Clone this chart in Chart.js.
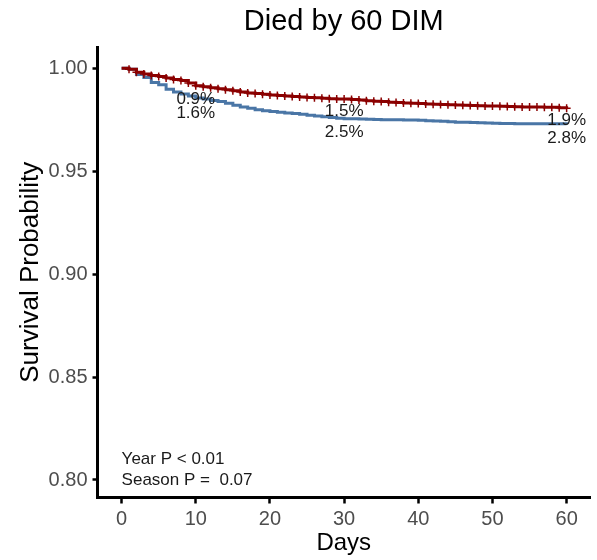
<!DOCTYPE html>
<html>
<head>
<meta charset="utf-8">
<script src="https://cdn.jsdelivr.net/npm/chart.js@4/dist/chart.umd.min.js"></script>
<style>
  html, body { margin: 0; padding: 0; background: #fff; }
  #wrap { width: 597px; height: 560px; }
</style>
</head>
<body>
<div id="wrap"><canvas id="kmChart" width="597" height="560"></canvas></div>
<script>
// follow-up day
const days = [0,1,2,3,4,5,6,7,8,9,10,11,12,13,14,15,16,17,18,19,20,
  21,22,23,24,25,26,27,28,29,30,31,32,33,34,35,36,37,38,39,40,
  41,42,43,44,45,46,47,48,49,50,51,52,53,54,55,56,57,58,59,60];

// survival, red group
const survRed = [1.000,0.9995,0.998,0.9972,0.9965,0.996,0.9953,0.9945,0.994,0.9928,0.9915,
  0.991,0.9905,0.990,0.9895,0.989,0.9885,0.988,0.9877,0.9873,0.987,
  0.9868,0.9865,0.9862,0.986,0.9858,0.9856,0.9854,0.9852,0.9851,0.985,
  0.9848,0.9845,0.9842,0.984,0.9838,0.9835,0.9833,0.9831,0.983,0.9828,
  0.9826,0.9825,0.9824,0.9822,0.9821,0.982,0.9819,0.9818,0.9817,0.9816,
  0.9815,0.9814,0.9813,0.9812,0.9811,0.9811,0.981,0.981,0.9808,0.9805];

// survival, blue group
const survBlue = [1.000,0.9995,0.997,0.9955,0.993,0.992,0.9898,0.9885,0.9875,0.9865,0.9855,
  0.985,0.9843,0.9838,0.983,0.982,0.9812,0.9805,0.9798,0.9793,0.979,
  0.9786,0.9782,0.978,0.9776,0.9772,0.9768,0.9764,0.976,0.9757,0.9755,
  0.9754,0.9753,0.9752,0.9751,0.975,0.975,0.975,0.9749,0.9748,0.9747,
  0.9745,0.9743,0.9742,0.974,0.9738,0.9737,0.9736,0.9735,0.9734,0.9733,
  0.9732,0.9731,0.973,0.973,0.973,0.973,0.973,0.973,0.973,0.9728];

// cumulative mortality labels at selected days
const labelDays = [10, 30, 60];
const pctRed = [0.9, 1.5, 1.9];
const pctBlue = [1.6, 2.5, 2.8];

const xTicks = [0, 10, 20, 30, 40, 50, 60];
const yTicks = [0.80, 0.85, 0.90, 0.95, 1.00];

const pvalLines = ['Year P < 0.01', 'Season P =  0.07'];
const pvalY = [0.81, 0.80];

const FONT = "'Liberation Sans', Arial, sans-serif";

const textPlugin = {
  id: 'kmText',
  afterDatasetsDraw(chart) {
    const ctx = chart.ctx;
    const xs = chart.scales.x, ys = chart.scales.y;
    ctx.save();
    ctx.fillStyle = '#1a1a1a';
    ctx.font = '17px ' + FONT;
    ctx.textAlign = 'center';
    ctx.textBaseline = 'middle';
    labelDays.forEach((d, i) => {
      const px = xs.getPixelForValue(d);
      ctx.fillText(pctRed[i] + '%', px, ys.getPixelForValue(1 - pctRed[i] / 100) + 12.5);
      ctx.fillText(pctBlue[i] + '%', px, ys.getPixelForValue(1 - pctBlue[i] / 100) + 12.5);
    });
    ctx.textAlign = 'left';
    pvalLines.forEach((t, i) => {
      ctx.fillText(t, xs.getPixelForValue(0), ys.getPixelForValue(pvalY[i]));
    });
    ctx.restore();
  }
};

const toPoints = arr => days.map((d, i) => ({ x: d, y: arr[i] }));

new Chart(document.getElementById('kmChart'), {
  type: 'line',
  data: {
    datasets: [
      {
        data: toPoints(survRed),
        borderColor: '#8B0000',
        backgroundColor: '#8B0000',
        borderWidth: 3,
        stepped: true,
        pointStyle: 'cross',
        pointRadius: ctx => ctx.dataIndex === 0 ? 0 : 4,
        pointBorderWidth: 1.5,
        pointHoverRadius: 0
      },
      {
        data: toPoints(survBlue),
        borderColor: '#4A76A6',
        backgroundColor: '#4A76A6',
        borderWidth: 3,
        stepped: true,
        pointRadius: 0
      }
    ]
  },
  options: {
    responsive: false,
    animation: false,
    events: [],
    layout: { padding: { left: 0, right: 7, top: 0, bottom: 0 } },
    plugins: {
      legend: { display: false },
      tooltip: { enabled: false },
      title: {
        display: true,
        text: 'Died by 60 DIM',
        fullSize: false,
        color: '#000',
        font: { family: FONT, size: 29, weight: 'normal', lineHeight: 1 },
        padding: { top: 7, bottom: 11 }
      }
    },
    scales: {
      x: {
        type: 'linear',
        min: -3.25,
        max: 63.15,
        afterFit: s => { s.height = 62.5; },
        afterBuildTicks: s => { s.ticks = xTicks.map(v => ({ value: v })); },
        ticks: {
          color: '#4d4d4d',
          font: { family: FONT, size: 20 },
          padding: 4,
          callback: v => String(v)
        },
        grid: { drawOnChartArea: false, drawTicks: true, tickLength: 6, tickWidth: 2.5, tickColor: '#000' },
        border: { display: true, color: '#000', width: 3 },
        title: {
          display: true,
          text: 'Days',
          color: '#000',
          font: { family: FONT, size: 24, lineHeight: 1 },
          padding: { top: 0, bottom: 4.6 }
        }
      },
      y: {
        min: 0.7915,
        max: 1.0103,
        afterFit: s => { s.width = 97.5; },
        afterBuildTicks: s => { s.ticks = yTicks.map(v => ({ value: v })); },
        ticks: {
          color: '#4d4d4d',
          font: { family: FONT, size: 20 },
          padding: 5,
          callback: v => v.toFixed(2)
        },
        grid: { drawOnChartArea: false, drawTicks: true, tickLength: 5, tickWidth: 2.5, tickColor: '#000' },
        border: { display: true, color: '#000', width: 3 },
        title: {
          display: true,
          text: 'Survival Probability',
          color: '#000',
          font: { family: FONT, size: 26, lineHeight: 1 },
          padding: { top: 18, bottom: 0 }
        }
      }
    }
  },
  plugins: [textPlugin]
});
</script>
</body>
</html>
